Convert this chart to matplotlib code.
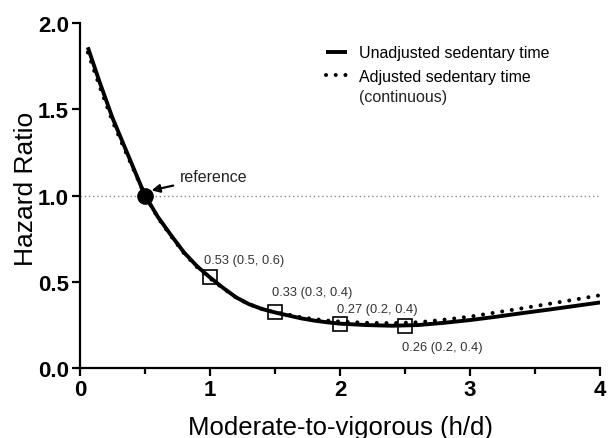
import matplotlib
matplotlib.use("Agg")
import matplotlib.pyplot as plt
from matplotlib.ticker import MultipleLocator, FormatStrFormatter

plt.rcParams["font.family"] = ["Liberation Sans", "DejaVu Sans"]

# values
mvpa = [0.06, 0.15, 0.25, 0.35, 0.45, 0.5, 0.6, 0.7, 0.8, 0.9, 1.0, 1.1, 1.2, 1.3, 1.4, 1.5,
        1.6, 1.7, 1.8, 1.9, 2.0, 2.2, 2.4, 2.6, 2.8, 3.0, 3.2, 3.4, 3.6, 3.8, 4.0]
hr_unadj = [1.86, 1.66, 1.45, 1.27, 1.09, 1.00, 0.875, 0.77, 0.67, 0.59, 0.525, 0.465, 0.41, 0.37,
            0.342, 0.322, 0.305, 0.288, 0.275, 0.265, 0.257, 0.249, 0.245, 0.249, 0.262, 0.278,
            0.297, 0.318, 0.338, 0.359, 0.38]
hr_adj = [1.83, 1.635, 1.43, 1.255, 1.085, 1.00, 0.87, 0.765, 0.665, 0.585, 0.52, 0.462, 0.408,
          0.37, 0.342, 0.322, 0.31, 0.294, 0.284, 0.275, 0.269, 0.262, 0.26, 0.265, 0.28, 0.298,
          0.322, 0.346, 0.371, 0.396, 0.422]

sq_x = [1.0, 1.5, 2.0, 2.5]
sq_y = [0.525, 0.325, 0.257, 0.246]
sq_labels = ["0.53 (0.5, 0.6)", "0.33 (0.3, 0.4)", "0.27 (0.2, 0.4)", "0.26 (0.2, 0.4)"]
lab_x = [0.955, 1.475, 1.975, 2.48]
lab_y = [0.628, 0.44, 0.342, 0.122]

ref_x, ref_y = 0.5, 1.0

fig = plt.figure(figsize=(6.08, 4.39), dpi=100)
ax = fig.add_axes([0.1316, 0.1595, 0.8554, 0.7855])

ax.axhline(1.0, color="#888888", lw=1.0, ls=(0, (1, 2)), zorder=1)

ax.plot(mvpa, hr_adj, color="black", lw=2.9, ls=(0, (0.01, 2.4)),
        dash_capstyle="round", label="Adjusted sedentary time", zorder=2)
ax.plot(mvpa, hr_unadj, color="black", lw=2.8, solid_capstyle="butt",
        solid_joinstyle="round", label="Unadjusted sedentary time", zorder=3)

ax.plot(sq_x, sq_y, ls="none", marker="s", ms=9.5, mfc="none", mec="black", mew=1.2, zorder=4)
for x, y, t in zip(lab_x, lab_y, sq_labels):
    ax.text(x, y, t, fontsize=9.3, ha="left", va="center", color="#333333")

ax.plot([ref_x], [ref_y], marker="o", ms=11, color="black", zorder=5)
ax.annotate("reference", xy=(0.55, 1.03), xytext=(0.77, 1.11), fontsize=11.5,
            va="center", ha="left", color="#222222",
            arrowprops=dict(arrowstyle="-|>", color="black", lw=1.6, mutation_scale=12,
                            shrinkA=3, shrinkB=0))

ax.set_xlim(0, 4)
ax.set_ylim(0, 2)
ax.xaxis.set_major_locator(MultipleLocator(1))
ax.xaxis.set_minor_locator(MultipleLocator(0.5))
ax.yaxis.set_major_locator(MultipleLocator(0.5))
ax.xaxis.set_major_formatter(FormatStrFormatter("%d"))
ax.yaxis.set_major_formatter(FormatStrFormatter("%.1f"))

for s in ["top", "right"]:
    ax.spines[s].set_visible(False)
for s in ["left", "bottom"]:
    ax.spines[s].set_linewidth(1.6)
ax.tick_params(which="major", length=6, width=1.6, labelsize=16, pad=2)
ax.tick_params(which="minor", length=4, width=1.6)
for lab in ax.get_xticklabels() + ax.get_yticklabels():
    lab.set_fontweight("bold")

ax.set_xlabel("Moderate-to-vigorous (h/d)", fontsize=18.5, labelpad=10.5)
ax.set_ylabel("Hazard Ratio", fontsize=19)
ax.yaxis.set_label_coords(-0.08, 0.523)

handles, labels = ax.get_legend_handles_labels()
ax.legend(handles[::-1], labels[::-1], loc="upper left", bbox_to_anchor=(0.473, 0.936),
          frameon=False, fontsize=11.5, handlelength=1.3, handletextpad=0.75,
          labelspacing=0.55, borderpad=0, borderaxespad=0)
ax.text(2.146, 1.577, "(continuous)", fontsize=11.5, ha="left", va="center", color="#222222")

fig.savefig("out.png", dpi=100)
